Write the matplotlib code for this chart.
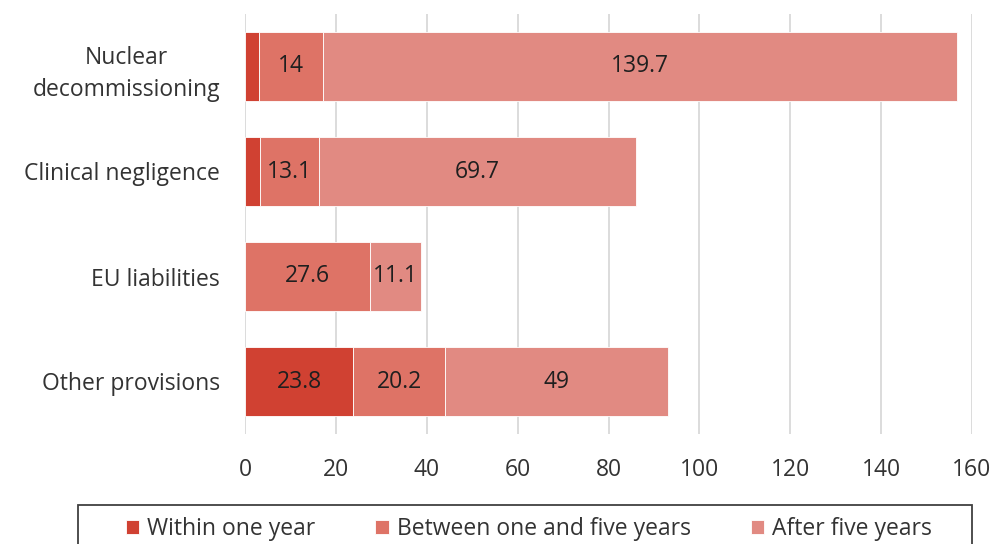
import matplotlib
matplotlib.use("Agg")
import matplotlib.pyplot as plt
from matplotlib.patches import Rectangle
import numpy as np

categories = ["Nuclear\ndecommissioning", "Clinical negligence", "EU liabilities", "Other provisions"]
series_names = ["Within one year", "Between one and five years", "After five years"]
within_one = [3.1, 3.2, 0.0, 23.8]
one_to_five = [14.0, 13.1, 27.6, 20.2]
after_five = [139.7, 69.7, 11.1, 49.0]
labels_within = ["", "", "", "23.8"]
labels_mid = ["14", "13.1", "27.6", "20.2"]
labels_after = ["139.7", "69.7", "11.1", "49"]
xticks = [0, 20, 40, 60, 80, 100, 120, 140, 160]

colors = ["#D04132", "#DE7366", "#E18A82"]
txt = "#333333"

plt.rcParams['font.family'] = ['Open Sans', 'DejaVu Sans']

fig = plt.figure(figsize=(10, 5.44), dpi=100)
ax = fig.add_axes([0.245, 1 - 434 / 544, 0.727, (434 - 14) / 544])

y = np.arange(len(categories))
left = np.zeros(len(categories))
all_labels = [labels_within, labels_mid, labels_after]
handles = []
for vals, col, name, labs in zip([within_one, one_to_five, after_five], colors, series_names, all_labels):
    bars = ax.barh(y, vals, left=left, height=0.66, color=col, label=name,
                   edgecolor="white", linewidth=0.6, zorder=3)
    handles.append(bars)
    for b, lab in zip(bars, labs):
        if lab:
            ax.text(b.get_x() + b.get_width() / 2, b.get_y() + b.get_height() / 2, lab,
                    ha="center", va="center", fontsize=16.5, color="#1f1f1f", zorder=4)
    left = left + np.array(vals)

ax.set_ylim(3.5, -0.5)
ax.set_xlim(0, 160)
ax.set_xticks(xticks)
ax.set_xticklabels([str(t) for t in xticks])
ax.set_yticks(y)
ax.set_yticklabels(categories)
ax.tick_params(axis="both", length=0, labelsize=16.5, colors=txt)
ax.tick_params(axis="x", pad=17)
ax.tick_params(axis="y", pad=18)
for lab in ax.get_yticklabels():
    lab.set_multialignment("center")
    lab.set_linespacing(1.45)
ax.grid(axis="x", color="#D9D9D9", linewidth=1.3, zorder=0)
ax.grid(axis="y", visible=False)
for s in ax.spines.values():
    s.set_visible(False)

# legend frame (extends below the figure edge as in the reference)
fig.patches.append(Rectangle((78 / 1000, -0.02), (972 - 78) / 1000, 1 - 505 / 544 + 0.02,
                             transform=fig.transFigure, fill=False,
                             edgecolor="#404040", linewidth=1.3))
leg = fig.legend(handles, series_names, loc="center", ncol=3,
                 bbox_to_anchor=(0.529, 1 - 529 / 544),
                 fontsize=16.5, frameon=False,
                 handlelength=0.6, handleheight=0.6, handletextpad=0.35,
                 columnspacing=2.6, borderpad=0.0, labelcolor=txt)

fig.savefig("out.png", dpi=100)
